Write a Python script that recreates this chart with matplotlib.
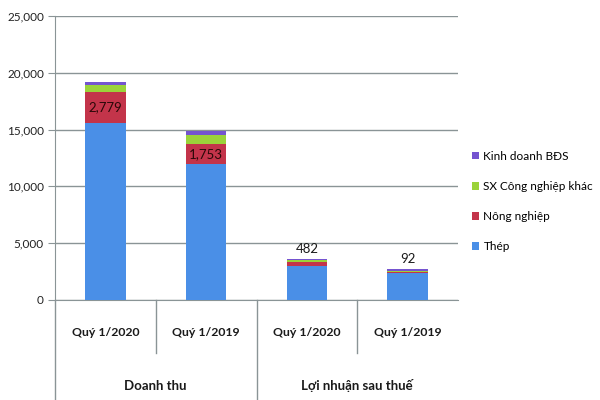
import matplotlib
matplotlib.use("Agg")
import matplotlib.pyplot as plt
from matplotlib.patches import Patch
from matplotlib.lines import Line2D

categories = ["Quý 1/2020", "Quý 1/2019", "Quý 1/2020", "Quý 1/2019"]
groups = ["Doanh thu", "Lợi nhuận sau thuế"]
series_names = ["Thép", "Nông nghiệp", "SX Công nghiệp khác", "Kinh doanh BĐS"]
thep = [15560, 11950, 2950, 2380]
nong_nghiep = [2779, 1753, 420, 92]
sx_cn_khac = [590, 800, 130, 120]
kd_bds = [240, 400, 100, 100]
labels = ["2,779", "1,753", "482", "92"]
yticks = [0, 5000, 10000, 15000, 20000, 25000]

colors = ["#4A8FE7", "#C3344A", "#9BD33A", "#7554D0"]

plt.rcParams['font.family'] = ['Lato', 'DejaVu Sans']

fig = plt.figure(figsize=(6, 4), dpi=100)
ax = fig.add_axes([55/600, 1-300/400, 403/600, 284/400])

x = list(range(len(categories)))
bottom = [0]*4
series = [thep, nong_nghiep, sx_cn_khac, kd_bds]
for vals, c, name in zip(series, colors, series_names):
    ax.bar(x, vals, width=0.4, bottom=bottom, color=c, label=name, zorder=3)
    bottom = [b + v for b, v in zip(bottom, vals)]

# data labels
for i in range(2):
    ax.text(x[i], thep[i] + nong_nghiep[i]/2, labels[i], ha='center', va='center',
            fontsize=9.5, color='#2a0808', zorder=4)
for i in range(2, 4):
    ax.text(x[i], bottom[i] + 350, labels[i], ha='center', va='bottom',
            fontsize=9.5, color='#1a1a1a', zorder=4)

ax.set_xlim(-0.5, 3.5)
ax.set_ylim(0, 25000)
ax.set_yticks(yticks)
ax.set_yticklabels([f"{v:,}" for v in yticks], fontsize=8.5)
ax.yaxis.grid(True, color='#8A9496', linewidth=1, zorder=0)
ax.set_xticks([])
ax.tick_params(axis='y', length=5, color='#8A9496', pad=3, labelcolor='#222222')
for s in ['top', 'right']:
    ax.spines[s].set_visible(False)
ax.spines['left'].set_color('#8A9496')
ax.spines['bottom'].set_color('#8A9496')

# category labels & dividers
trans = ax.get_xaxis_transform()
for i, c in enumerate(categories):
    ax.text(x[i], -32/284, c, transform=trans, ha='center', va='center',
            fontsize=8.8, fontweight='bold', color='#1a1a1a')
for g, gx in zip(groups, [0.5, 2.5]):
    ax.text(gx, -86/284, g, transform=trans, ha='center', va='center',
            fontsize=9.5, fontweight='bold', color='#1a1a1a')
for d in [0.5, 2.5]:
    ax.add_line(Line2D([d, d], [0, -53/284], transform=trans, color='#8A9496',
                       linewidth=1, clip_on=False))
for d in [-0.5, 1.5]:
    ax.add_line(Line2D([d, d], [0, -100/284], transform=trans, color='#8A9496',
                       linewidth=1, clip_on=False))

# legend
handles = [Patch(facecolor=c, label=n) for c, n in zip(colors, series_names)][::-1]
leg = fig.legend(handles=handles, loc='upper left', bbox_to_anchor=(461/600, 1-140/400),
                 frameon=False, fontsize=8.5, labelspacing=1.62, handlelength=0.65,
                 handleheight=0.65, handletextpad=0.35)

fig.savefig("out.png", dpi=100)
